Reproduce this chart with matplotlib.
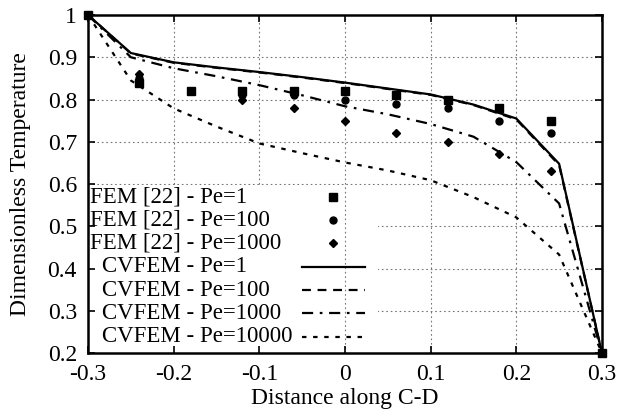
import matplotlib
matplotlib.use('Agg')
import matplotlib.pyplot as plt
from matplotlib.patches import Rectangle

plt.rcParams['font.family'] = ['Liberation Serif', 'DejaVu Serif']
plt.rcParams['font.size'] = 17

# CVFEM solution along C-D
x_cv = [-0.3, -0.25, -0.2, -0.15, -0.1, -0.05, 0.0, 0.05, 0.1, 0.15, 0.2, 0.25, 0.3]
cv_pe1 = [1.0, 0.91, 0.888, 0.876, 0.865, 0.853, 0.840, 0.826, 0.812, 0.788, 0.755, 0.648, 0.2]
cv_pe100 = [1.0, 0.909, 0.887, 0.875, 0.864, 0.852, 0.839, 0.825, 0.811, 0.787, 0.753, 0.645, 0.2]
cv_pe1000 = [1.0, 0.90, 0.874, 0.855, 0.834, 0.81, 0.784, 0.765, 0.742, 0.712, 0.652, 0.554, 0.2]
cv_pe10000 = [1.0, 0.845, 0.779, 0.736, 0.696, 0.673, 0.651, 0.632, 0.609, 0.569, 0.521, 0.433, 0.2]

# FEM [22] reference points
x_fem = [-0.3, -0.24, -0.18, -0.12, -0.06, 0.0, 0.06, 0.12, 0.18, 0.24, 0.3]
fem_pe1 = [1.0, 0.84, 0.82, 0.82, 0.82, 0.82, 0.81, 0.80, 0.78, 0.75, 0.2]
fem_pe100 = [1.0, 0.85, 0.82, 0.81, 0.81, 0.80, 0.79, 0.78, 0.75, 0.72, 0.2]
fem_pe1000 = [1.0, 0.86, 0.82, 0.80, 0.78, 0.75, 0.72, 0.70, 0.67, 0.63, 0.2]

xticks = [-0.3, -0.2, -0.1, 0.0, 0.1, 0.2, 0.3]
xlabels = ['-0.3', '-0.2', '-0.1', '0', '0.1', '0.2', '0.3']
yticks = [0.2, 0.3, 0.4, 0.5, 0.6, 0.7, 0.8, 0.9, 1.0]
ylabels = ['0.2', '0.3', '0.4', '0.5', '0.6', '0.7', '0.8', '0.9', '1']

fig = plt.figure(figsize=(6.27, 4.11), dpi=100)
ax = fig.add_axes([0.1404, 0.1411, 0.8196, 0.8224])

# grid drawn by hand so the key box sits over it but under the ticks
grid_kw = dict(color='#777777', lw=0.8, ls=(0, (1.5, 2.5)))
for xt in xticks[1:-1]:
    ax.axvline(xt, zorder=0.5, **grid_kw)
for yt in yticks[1:-1]:
    ax.axhline(yt, zorder=0.5, **grid_kw)

lw = 1.6
styles = ['-', (0, (4, 3)), (0, (5, 3, 1.2, 3)), (0, (2, 3))]
for yv, st in zip([cv_pe1, cv_pe100, cv_pe1000, cv_pe10000], styles):
    ax.plot(x_cv, yv, color='black', lw=lw, ls=st, zorder=2)

ax.plot(x_fem, fem_pe1000, 'D', color='black', ms=4, clip_on=False, zorder=3)
ax.plot(x_fem, fem_pe100, 'o', color='black', ms=5, clip_on=False, zorder=3)
ax.plot(x_fem, fem_pe1, 's', color='black', ms=6, clip_on=False, zorder=3)

ax.set_xlim(-0.3, 0.3)
ax.set_ylim(0.2, 1.0)
ax.set_xticks(xticks)
ax.set_xticklabels(xlabels)
ax.set_yticks(yticks)
ax.set_yticklabels(ylabels)
ax.tick_params(direction='in', length=5, width=1.2, top=True, right=True, pad=8)
for sp in ax.spines.values():
    sp.set_linewidth(1.8)
    sp.set_zorder(4)

ax.set_xlabel('Distance along C-D', labelpad=2)
ax.set_ylabel('Dimensionless Temperature', labelpad=12)

# gnuplot style key, built by hand (text left, sample right)
labels = ['FEM [22] - Pe=1', 'FEM [22] - Pe=100', 'FEM [22] - Pe=1000',
          'CVFEM - Pe=1', 'CVFEM - Pe=100', 'CVFEM - Pe=1000', 'CVFEM - Pe=10000']
markers = ['s', 'o', 'D', None, None, None, None]
msizes = [6, 5, 4, 0, 0, 0, 0]
kstyles = [None, None, None] + styles

ax.add_patch(Rectangle((0, 0), 0.564, 0.497, transform=ax.transAxes,
                       facecolor='white', edgecolor='none', zorder=1))
# the x=0 grid line still shows through the sample column of the key
ax.axvline(xticks[3], ymax=0.497, zorder=1.5, **grid_kw)

row0, dy = 0.463, 0.0692
for i, lab in enumerate(labels):
    yk = row0 - i * dy
    tx = 0.004 if lab.startswith('FEM') else 0.027
    ax.text(tx, yk, lab, transform=ax.transAxes, ha='left', va='center',
            fontsize=16.5, zorder=5)
    if markers[i]:
        ax.plot([0.477], [yk], marker=markers[i], ms=msizes[i], color='black',
                ls='none', transform=ax.transAxes, zorder=5)
    else:
        ax.plot([0.416, 0.539], [yk, yk], color='black', lw=lw, ls=kstyles[i],
                transform=ax.transAxes, zorder=5)

fig.savefig('out.png', dpi=100)
